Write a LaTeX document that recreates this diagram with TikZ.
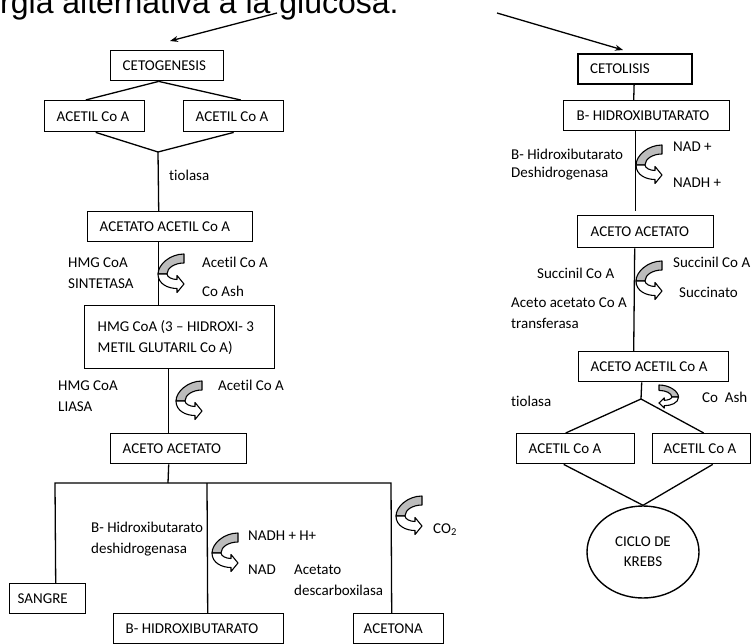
\documentclass[tikz,border=0pt]{standalone}
\usepackage{fontspec}
\setmainfont{Carlito}[Ligatures=NoCommon]
\newfontfamily\arialf{Liberation Sans}
\usetikzlibrary{arrows.meta,shapes.geometric}
\definecolor{crvgray}{RGB}{188,188,188}
\newcommand\crvarr[4]{%
  \begin{scope}[shift={(#1,#2)},xscale=#3,yscale=#4]
    \filldraw[fill=crvgray,line width=1.1pt,line join=round]
      (0,0) .. controls (-14.4,0) and (-26,11) .. (-26,20)
      -- (-17,20) .. controls (-17,13.9) and (-9.4,9) .. (0,9) -- cycle;
    \filldraw[fill=white,line width=1.1pt,line join=round]
      (-26,20) .. controls (-26,30) and (-16,34.5) .. (-7,34.5)
      -- (-7,38.5) -- (0,30) -- (-7,21.5) -- (-7,25.5)
      .. controls (-12,25.5) and (-17,23) .. (-17,20) -- cycle;
  \end{scope}}
\tikzset{
  bx/.style={draw,line width=1.4pt,inner xsep=12pt,inner ysep=0pt,align=flush left,
    anchor=north west,font=\fontsize{15}{21}\selectfont},
  lbl/.style={inner sep=0pt,anchor=base west,font=\fontsize{15}{21}\selectfont},
  ln/.style={line width=1.3pt},
  arr/.style={line width=1.3pt,-{Stealth[length=8pt,width=6pt]}},
}
\begin{document}
\begin{tikzpicture}[x=1pt,y=-1pt]
\useasboundingbox (0,0) rectangle (751,644);
\fill[white] (0,0) rectangle (751,644);
% title
\node[anchor=base west,inner sep=0pt,font=\arialf\fontsize{32}{36}\selectfont] (title) at (0,14) {rgia alternativa a la glucosa.};
\coordinate (s1) at (277,13); \coordinate (t1) at (170,41);
\coordinate (s2) at (497,13); \coordinate (t2) at (623,50);
\draw[arr] (s1) -- (t1);
\draw[arr] (s2) -- (t2);
% left column boxes
\node[bx,text width=89pt,minimum height=30pt] (cetog) at (110,50) {CETOGENESIS};
\node[bx,text width=76pt,minimum height=31pt] (ac1) at (44,100) {ACETIL Co A};
\node[bx,text width=76pt,minimum height=31pt] (ac2) at (183,100) {ACETIL Co A};
\node[bx,text width=141pt,minimum height=30pt] (aaca) at (87,211) {ACETATO ACETIL Co A};
\node[bx,minimum height=63pt,inner xsep=13pt,text width=164pt] (hmg) at (84,305) {HMG CoA (3 -- HIDROXI- 3\\METIL GLUTARIL Co A)};
\node[bx,text width=112pt,minimum height=30pt] (acac) at (110,433) {ACETO ACETATO};
\node[bx,inner xsep=8pt,text width=60pt,minimum height=30pt] (sangre) at (9,583) {SANGRE};
\node[bx,text width=146pt,minimum height=30pt] (bhid) at (113,613) {B- HIDROXIBUTARATO};
\node[bx,inner xsep=10pt,text width=70pt,minimum height=30pt] (acetona) at (353,613) {ACETONA};
% right column boxes
\node[bx,line width=2.2pt,text width=90pt,minimum height=30pt] (cetol) at (577,53) {CETOLISIS};
\node[bx,inner xsep=13pt,text width=140pt,minimum height=30pt] (bhid2) at (563,100) {B- HIDROXIBUTARATO};
\node[bx,inner xsep=13pt,text width=110pt,minimum height=32pt] (acac2) at (577,215) {ACETO ACETATO};
\node[bx,text width=126pt,minimum height=30pt] (aaca2) at (578,351) {ACETO ACETIL Co A};
\node[bx,text width=94pt,minimum height=30pt] (acr1) at (516,433) {ACETIL Co A};
\node[bx,inner xsep=11pt,text width=76pt,minimum height=30pt] (acr2) at (652,433) {ACETIL Co A};
\node[draw,ellipse,line width=1.4pt,minimum width=112pt,minimum height=92pt,inner sep=0pt,align=flush center,
  font=\fontsize{15}{20}\selectfont] (krebs) at (643,552) {CICLO DE\\KREBS};
% left connectors
\coordinate (ap1) at (158,152);
\coordinate (j) at (168,483);
\coordinate (jl) at (55,483);
\coordinate (jm) at (207,483);
\coordinate (jr) at (391,483);
\draw[ln] ([xshift=-8.5pt]cetog.south) -- ([xshift=-9pt]ac1.north);
\draw[ln] ([xshift=-8.5pt]cetog.south) -- ([xshift=7pt]ac2.north);
\draw[ln] ([xshift=1pt]ac1.south) -- (ap1) -- (ac2.south);
\draw[ln] (ap1) -- ([xshift=-11.5pt]aaca.north);
\draw[ln] ([xshift=-11.5pt]aaca.south) -- ([xshift=-21pt]hmg.north);
\draw[ln] ([xshift=-11pt]hmg.south) -- ([xshift=-10pt]acac.north);
\draw[ln] ([xshift=-10pt]acac.south) -- (j);
\draw[ln] ([xshift=8pt]sangre.north) -- (jl) -- (jr) -- ([xshift=-7pt]acetona.north);
\draw[ln] (jm) -- ([xshift=9pt]bhid.north);
% right connectors
\coordinate (ap2) at (641,399);
\draw[ln] ([xshift=-1pt]cetol.south) -- ([xshift=-13pt]bhid2.north);
\draw[ln] ([xshift=-11pt]bhid2.south) -- ([xshift=-10pt,yshift=4pt]acac2.north);
\draw[ln] ([xshift=-11pt]acac2.south) -- ([xshift=-20pt]aaca2.north);
\draw[ln] ([xshift=-12pt]aaca2.south) -- (ap2);
\draw[ln] ([xshift=-10pt]acr1.north) -- (ap2) -- ([xshift=2pt]acr2.north);
\draw[ln] ([xshift=-12pt]acr1.south) -- (krebs.north);
\draw[ln] ([xshift=11pt]acr2.south) -- (krebs.north);
% curved arrows
\crvarr{184}{254}{1}{1}
\crvarr{202}{381}{1}{1}
\crvarr{238}{533}{1}{1}
\crvarr{422}{496}{1}{1}
\crvarr{662}{145}{1}{1}
\crvarr{662}{261}{1}{1}
\crvarr{659}{385}{-0.75}{0.6}
% labels left
\node[lbl] (l1) at (169,181) {tiolasa};
\node[lbl] (l2) at (68,267) {HMG CoA};
\node[lbl] (l3) at (68,288) {SINTETASA};
\node[lbl] (l4) at (202,267) {Acetil Co A};
\node[lbl] (l5) at (202,296) {Co Ash};
\node[lbl] (l6) at (58,390) {HMG CoA};
\node[lbl] (l7) at (58,411) {LIASA};
\node[lbl] (l8) at (218,390) {Acetil Co A};
\node[lbl] (l9) at (91,532) {B- Hidroxibutarato};
\node[lbl] (l10) at (91,553) {deshidrogenasa};
\node[lbl] (l11) at (248,540) {NADH + H+};
\node[lbl] (l12) at (248,574) {NAD};
\node[lbl] (l13) at (294,574) {Acetato};
\node[lbl] (l14) at (294,595) {descarboxilasa};
\node[lbl] (l15) at (433,533) {CO\textsubscript{2}};
% labels right
\node[lbl] (r1) at (511,160) {B- Hidroxibutarato};
\node[lbl] (r2) at (511,178) {Deshidrogenasa};
\node[lbl] (r3) at (673,152) {NAD +};
\node[lbl] (r4) at (673,188) {NADH +};
\node[lbl] (r5) at (537,278) {Succinil Co A};
\node[lbl] (r6) at (673,267) {Succinil Co A};
\node[lbl] (r7) at (679,297) {Succinato};
\node[lbl] (r8) at (511,307) {Aceto acetato Co A};
\node[lbl] (r9) at (511,328) {transferasa};
\node[lbl] (r10) at (511,406) {tiolasa};
\node[lbl] (r11) at (702,402) {Co~~Ash};
\end{tikzpicture}
\end{document}
